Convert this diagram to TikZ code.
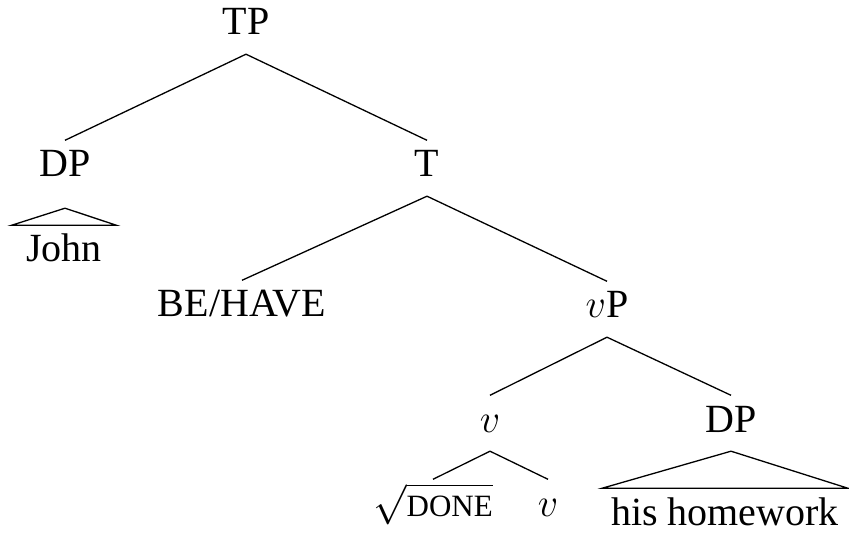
\RequirePackage{fix-cm}
\documentclass[tikz,border=0pt]{standalone}
\usepackage{fontspec}
\setmainfont{Liberation Serif}
\begin{document}
\begin{tikzpicture}[x=1pt,y=-1pt,
  lab/.style={font=\fontsize{40}{48}\selectfont, inner xsep=0pt, inner ysep=9.5pt,
              text height=27pt, text depth=9.5pt, anchor=base},
  edge/.style={line width=1.3pt, line join=miter}]
\useasboundingbox (0,0) rectangle (849,534);
% nodes
\node[lab] (TP)  at (246,35)  {TP};
\node[lab] (DPa) at (65,177)  {DP};
\node[lab] (T)   at (427,177) {T};
\node[lab, inner xsep=14.5pt] (John) at (64,262) {John};
\node[lab] (BH)  at (242,317) {BE/HAVE};
\node[lab] (vP)  at (607,318) {$v$P};
\node[lab] (v)   at (490,432) {$v$};
\node[lab] (DPb) at (731,432) {DP};
\node[lab] (done) at (433,516) {$\sqrt{\hbox{\fontsize{31}{34}\selectfont DONE}}$};
\node[lab] (vb)  at (548,516) {$v$};
\node[lab, inner xsep=9pt] (hw) at (725,525) {his homework};
% edges
\draw[edge] (TP.south) -- (DPa.north);
\draw[edge] (TP.south) -- (T.north);
\draw[edge] (T.south) -- (BH.north);
\draw[edge] (T.south) -- (vP.north);
\draw[edge] (vP.south) -- (v.north);
\draw[edge] (vP.south) -- (DPb.north);
\draw[edge] (v.south) -- (done.north);
\draw[edge] (v.south) -- (vb.north);
% roofs
\draw[edge] ([yshift=-12pt]DPa.south) -- (John.north west) -- (John.north east) -- cycle;
\draw[edge] (DPb.south) -- (hw.north west) -- (hw.north east) -- cycle;
\end{tikzpicture}
\end{document}
